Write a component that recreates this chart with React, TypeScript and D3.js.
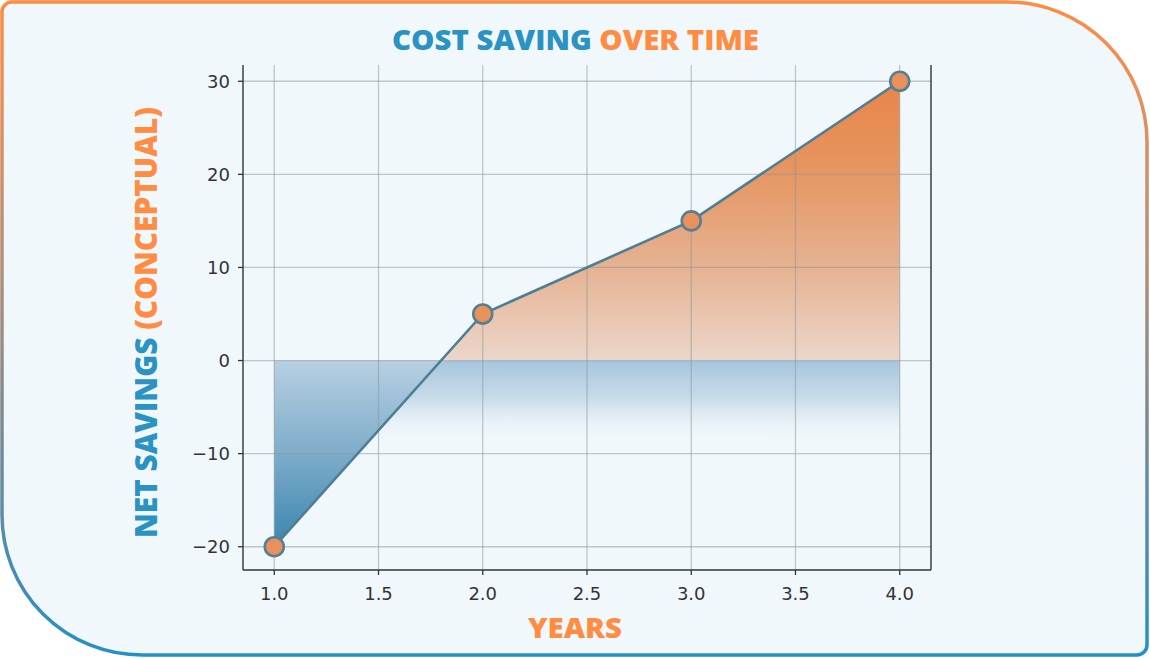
import React from "react";
import * as d3 from "d3";

const years = [1, 2, 3, 4];
const savings = [-20, 5, 15, 30];
const xTicks = [1.0, 1.5, 2.0, 2.5, 3.0, 3.5, 4.0];
const yTicks = [-20, -10, 0, 10, 20, 30];

const W = 1150;
const H = 658;
const plot = { left: 243, right: 931, top: 65, bottom: 570 };

const BLUE = "#2a93c4";
const ORANGE = "#ff8c42";
const headFont = "'Open Sans', Lato, sans-serif";
const tickFont = "'DejaVu Sans', sans-serif";

// outer frame: small radius top-left / bottom-right, big ones on the other two
function framePath() {
	const x0 = 2, y0 = 2, x1 = W - 3, y1 = H - 3;
	const rs = 10, rb = 140;
	return [
		`M${x0 + rs},${y0}`,
		`L${x1 - rb},${y0}`,
		`A${rb},${rb} 0 0 1 ${x1},${y0 + rb}`,
		`L${x1},${y1 - rs}`,
		`A${rs},${rs} 0 0 1 ${x1 - rs},${y1}`,
		`L${x0 + rb},${y1}`,
		`A${rb},${rb} 0 0 1 ${x0},${y1 - rb}`,
		`L${x0},${y0 + rs}`,
		`A${rs},${rs} 0 0 1 ${x0 + rs},${y0}`,
		"Z",
	].join(" ");
}

export default function App() {
	const x = d3.scaleLinear().domain([0.85, 4.15]).range([plot.left, plot.right]);
	const y = d3.scaleLinear().domain([-22.5, 32.5]).range([plot.bottom, 58]);

	const pts = years.map((yr, i) => ({ yr, v: savings[i] }));

	const area = d3
		.area<{ yr: number; v: number }>()
		.x((d) => x(d.yr))
		.y0(y(0))
		.y1((d) => y(d.v));

	const line = d3
		.line<{ yr: number; v: number }>()
		.x((d) => x(d.yr))
		.y((d) => y(d.v));

	const y0 = y(0);
	const xFirst = x(years[0]);
	const xLast = x(years[years.length - 1]);

	return (
		<svg
			width={W}
			height={H}
			style={{ position: "absolute", left: 0, top: 0 }}
		>
			<defs>
				<linearGradient id="frameStroke" gradientUnits="userSpaceOnUse" x1={0} y1={0} x2={0} y2={H}>
					<stop offset="0" stopColor="#ff8c42" />
					<stop offset="0.15" stopColor="#e58f5c" />
					<stop offset="0.4" stopColor="#b38f78" />
					<stop offset="0.6" stopColor="#858a8e" />
					<stop offset="0.8" stopColor="#578ca8" />
					<stop offset="1" stopColor="#2290c6" />
				</linearGradient>
				<linearGradient id="posFill" gradientUnits="userSpaceOnUse" x1={0} y1={y(30)} x2={0} y2={y0}>
					<stop offset="0" stopColor="#e8854a" />
					<stop offset="0.3" stopColor="#e6945f" />
					<stop offset="0.65" stopColor="#e5b190" />
					<stop offset="1" stopColor="#ecd6ca" />
				</linearGradient>
				<linearGradient id="negFill" gradientUnits="userSpaceOnUse" x1={0} y1={y0} x2={0} y2={y(-20)}>
					<stop offset="0" stopColor="#b7d0e2" />
					<stop offset="0.5" stopColor="#7eacca" />
					<stop offset="1" stopColor="#3a86af" />
				</linearGradient>
				<linearGradient id="bandFill" gradientUnits="userSpaceOnUse" x1={0} y1={y0} x2={0} y2={y(-9)}>
					<stop offset="0" stopColor="#a6c5dc" stopOpacity={1} />
					<stop offset="0.45" stopColor="#bcd4e5" stopOpacity={0.8} />
					<stop offset="1" stopColor="#f0f6fa" stopOpacity={0} />
				</linearGradient>
				<clipPath id="above">
					<rect x={plot.left} y={plot.top} width={plot.right - plot.left} height={y0 - plot.top} />
				</clipPath>
				<clipPath id="below">
					<rect x={plot.left} y={y0} width={plot.right - plot.left} height={plot.bottom - y0} />
				</clipPath>
			</defs>

			<path d={framePath()} fill="#f1f8fc" stroke="url(#frameStroke)" strokeWidth={3.5} />

			{/* fills */}
			<rect x={xFirst} y={y0} width={xLast - xFirst} height={y(-9) - y0} fill="url(#bandFill)" />
			<path d={area(pts) ?? ""} fill="url(#negFill)" clipPath="url(#below)" />
			<path d={area(pts) ?? ""} fill="url(#posFill)" clipPath="url(#above)" />

			{/* grid */}
			<g stroke="#8e9499" strokeOpacity={0.5} strokeWidth={1.3}>
				{xTicks.map((t) => (
					<line key={"gx" + t} x1={x(t)} x2={x(t)} y1={plot.top} y2={plot.bottom} />
				))}
				{yTicks.map((t) => (
					<line key={"gy" + t} x1={plot.left} x2={plot.right} y1={y(t)} y2={y(t)} />
				))}
			</g>

			{/* line + markers */}
			<path d={line(pts) ?? ""} fill="none" stroke="#4d7e95" strokeWidth={2.6} />
			{pts.map((d) => (
				<circle key={d.yr} cx={x(d.yr)} cy={y(d.v)} r={9.5} fill="#e8915a" stroke="#567f93" strokeWidth={2.6} />
			))}

			{/* spines */}
			<g stroke="#333" strokeWidth={1.4} fill="none">
				<line x1={plot.left} x2={plot.left} y1={plot.top} y2={plot.bottom} />
				<line x1={plot.right} x2={plot.right} y1={plot.top} y2={plot.bottom} />
				<line x1={plot.left} x2={plot.right} y1={plot.bottom} y2={plot.bottom} />
			</g>

			{/* ticks */}
			<g fontFamily={tickFont} fontSize={18} fill="#333">
				{xTicks.map((t) => (
					<g key={"tx" + t}>
						<line x1={x(t)} x2={x(t)} y1={plot.bottom} y2={plot.bottom + 5} stroke="#333" strokeWidth={1.3} />
						<text x={x(t)} y={plot.bottom + 30} textAnchor="middle">
							{t.toFixed(1)}
						</text>
					</g>
				))}
				{yTicks.map((t) => (
					<g key={"ty" + t}>
						<line x1={plot.left - 5} x2={plot.left} y1={y(t)} y2={y(t)} stroke="#333" strokeWidth={1.3} />
						<text x={plot.left - 13} y={y(t)} dy="0.36em" textAnchor="end">
							{t < 0 ? "\u2212" + Math.abs(t) : String(t)}
						</text>
					</g>
				))}
			</g>

			{/* titles */}
			<text
				x={392}
				y={50}
				fontFamily={headFont}
				fontWeight={800}
				fontSize={28}
				textLength={367}
				lengthAdjust="spacingAndGlyphs"
			>
				<tspan fill={BLUE}>COST SAVING </tspan>
				<tspan fill={ORANGE}>OVER TIME</tspan>
			</text>
			<text
				x={528}
				y={638}
				fontFamily={headFont}
				fontWeight={800}
				fontSize={29}
				fill={ORANGE}
				textLength={94}
				lengthAdjust="spacingAndGlyphs"
			>
				YEARS
			</text>
			<text
				transform="translate(157,538) rotate(-90)"
				fontFamily={headFont}
				fontWeight={800}
				fontSize={30}
				textLength={431}
				lengthAdjust="spacingAndGlyphs"
			>
				<tspan fill={BLUE}>NET SAVINGS </tspan>
				<tspan fill={ORANGE}>(CONCEPTUAL)</tspan>
			</text>
		</svg>
	);
}
